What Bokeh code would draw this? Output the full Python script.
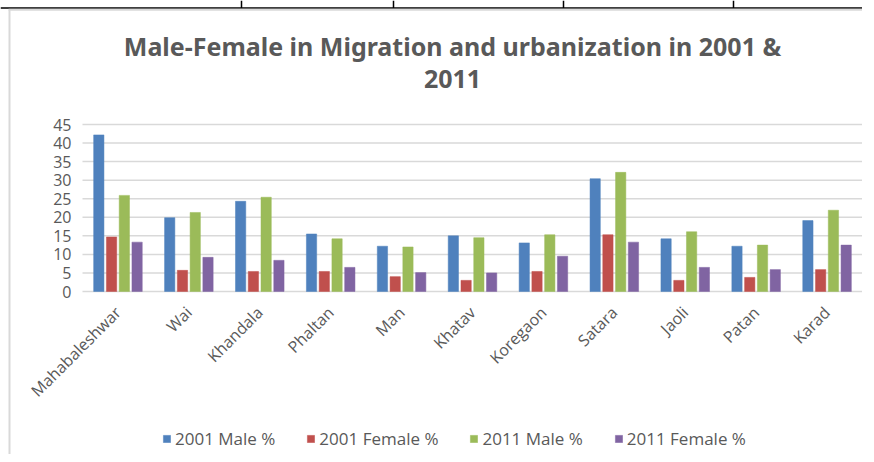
import math
from bokeh.plotting import figure
from bokeh.models import Legend, LegendItem, ColumnDataSource, Label, Range1d
from bokeh.transform import dodge
from bokeh.embed import file_html
from bokeh.resources import INLINE

cities = ["Mahabaleshwar", "Wai", "Khandala", "Phaltan", "Man", "Khatav",
          "Koregaon", "Satara", "Jaoli", "Patan", "Karad"]
male_2001 = [42.2, 19.9, 24.3, 15.5, 12.2, 15.0, 13.1, 30.4, 14.2, 12.2, 19.1]
female_2001 = [14.7, 5.7, 5.4, 5.4, 4.0, 3.0, 5.4, 15.3, 3.0, 3.8, 5.9]
male_2011 = [25.9, 21.3, 25.4, 14.2, 12.0, 14.5, 15.3, 32.1, 16.1, 12.5, 21.9]
female_2011 = [13.3, 9.2, 8.4, 6.5, 5.1, 5.0, 9.5, 13.3, 6.5, 5.9, 12.5]
series_names = ["2001 Male %", "2001 Female %", "2011 Male %", "2011 Female %"]
y_ticks = [0, 5, 10, 15, 20, 25, 30, 35, 40, 45]
title_lines = ["Male-Female in Migration and urbanization in 2001 &", "2011"]

n = len(cities)
idx = list(range(n))
src = ColumnDataSource(dict(x=idx, m01=male_2001, f01=female_2001,
                            m11=male_2011, f11=female_2011))

# layout geometry (pixels)
PLOT_L, PLOT_W, FRAME_W = 82, 780, 862
TOP_45, BOT_0, FRAME_H = 124, 291, 454
CW = PLOT_W / n
PY = (BOT_0 - TOP_45) / 45.0


def px_x(px):
    return -0.5 + (px - PLOT_L) / CW


def px_y(py):
    return (BOT_0 - py) / PY


p = figure(frame_width=FRAME_W, frame_height=FRAME_H,
           x_range=Range1d(px_x(0), px_x(FRAME_W)),
           y_range=Range1d(px_y(FRAME_H), px_y(0)),
           output_backend="svg", toolbar_location=None,
           min_border_left=0, min_border_right=0, min_border_top=0, min_border_bottom=0)

# page decorations: table rule above the chart and the chart's light border
p.segment(x0=[px_x(0)], x1=[px_x(FRAME_W)], y0=[px_y(7.5)], y1=[px_y(7.5)],
          line_color="black", line_width=1.5)
p.segment(x0=[px_x(v) for v in (241, 393, 563, 733)], x1=[px_x(v) for v in (241, 393, 563, 733)],
          y0=[px_y(0)] * 4, y1=[px_y(7.5)] * 4, line_color="black", line_width=1.5)
p.segment(x0=[px_x(8), px_x(9)], x1=[px_x(FRAME_W), px_x(9)],
          y0=[px_y(9.3), px_y(9.3)], y1=[px_y(9.3), px_y(FRAME_H)],
          line_color="#D9D9D9", line_width=2)

# horizontal gridlines only across the plot area
p.segment(x0=[-0.5] * len(y_ticks), x1=[n - 0.5] * len(y_ticks), y0=y_ticks, y1=y_ticks,
          line_color="#D9D9D9", line_width=1.5)

colors = ["#4F81BD", "#C0504D", "#9BBB59", "#8064A2"]
fields = ["m01", "f01", "m11", "f11"]
offsets = [-0.27, -0.09, 0.09, 0.27]
renderers = []
for f, c, o in zip(fields, colors, offsets):
    r = p.vbar(x=dodge("x", o), top=f, width=0.145, source=src,
               fill_color=c, line_color=c, line_width=0.5)
    renderers.append(r)

title_x = px_x(452)
for txt, py in zip(title_lines, [45, 78]):
    p.add_layout(Label(x=title_x, y=px_y(py), text=txt, text_align="center",
                       text_baseline="middle", text_font="Noto Sans", text_font_size="25px",
                       text_font_style="bold", text_color="#595959"))

p.xaxis.ticker = idx
p.xaxis.major_label_overrides = {i: c for i, c in zip(idx, cities)}
p.xaxis.fixed_location = 0
p.xaxis.major_label_orientation = math.pi / 4
p.yaxis.ticker = y_ticks
p.yaxis.fixed_location = -0.5
for ax in (p.xaxis, p.yaxis):
    ax.axis_line_color = None
    ax.major_tick_line_color = None
    ax.minor_tick_line_color = None
    ax.major_label_text_font = "Open Sans"
    ax.major_label_text_font_size = "16px"
    ax.major_label_text_color = "#595959"
p.xaxis.major_label_standoff = 12
p.yaxis.major_label_standoff = 5

p.xgrid.visible = False
p.ygrid.visible = False
p.outline_line_color = None

legend = Legend(items=[LegendItem(label=s, renderers=[r]) for s, r in zip(series_names, renderers)],
                orientation="horizontal", location=(162, 4),
                label_text_font="Open Sans", label_text_font_size="17px",
                label_text_color="#595959", glyph_width=9, glyph_height=9,
                spacing=31, label_standoff=4, border_line_color=None,
                background_fill_alpha=0, margin=0, padding=4)
p.add_layout(legend, "center")

open("out.html", "w").write(file_html(p, INLINE))
